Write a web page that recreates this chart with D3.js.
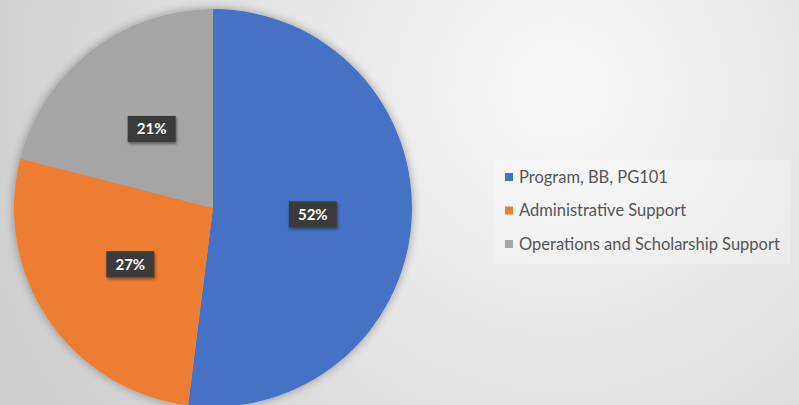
<!DOCTYPE html>
<html><head><meta charset="utf-8">
<script src="https://cdn.jsdelivr.net/npm/d3@7"></script>
<style>html,body{margin:0;padding:0;background:#e2e2e2;}svg{display:block;}</style>
</head><body>
<svg id="chart" width="799" height="405"></svg>
<script>
const categories = ["Program, BB, PG101", "Administrative Support", "Operations and Scholarship Support"];
const values = [52, 27, 21];
const colors = ["#4472c4", "#ed7d31", "#a5a5a5"];
const labels = ["52%", "27%", "21%"];

const W = 799, H = 405;
const svg = d3.select("#chart");
const defs = svg.append("defs");

const bg = defs.append("radialGradient").attr("id", "bg")
  .attr("gradientUnits", "userSpaceOnUse")
  .attr("cx", 560).attr("cy", 90).attr("r", 620);
bg.append("stop").attr("offset", "0").attr("stop-color", "#f8f8f8");
bg.append("stop").attr("offset", "0.5").attr("stop-color", "#e4e4e4");
bg.append("stop").attr("offset", "1").attr("stop-color", "#cdcdcd");
svg.append("rect").attr("width", W).attr("height", H).attr("fill", "url(#bg)");

const sh = defs.append("filter").attr("id", "pieShadow")
  .attr("x", "-20%").attr("y", "-20%").attr("width", "140%").attr("height", "140%");
sh.append("feDropShadow").attr("dx", 0).attr("dy", 0).attr("stdDeviation", 5)
  .attr("flood-color", "#000").attr("flood-opacity", 0.35);

const lsh = defs.append("filter").attr("id", "lblShadow")
  .attr("x", "-30%").attr("y", "-30%").attr("width", "160%").attr("height", "170%");
lsh.append("feDropShadow").attr("dx", 1).attr("dy", 2).attr("stdDeviation", 1.5)
  .attr("flood-color", "#000").attr("flood-opacity", 0.45);

const cx = 213, cy = 208, R = 199;
const pie = d3.pie().sort(null).value(d => d)(values);
const arc = d3.arc().innerRadius(0).outerRadius(R);
const labelArc = d3.arc().innerRadius(100).outerRadius(100);

const g = svg.append("g").attr("transform", `translate(${cx},${cy})`);
g.append("g").attr("filter", "url(#pieShadow)")
  .selectAll("path").data(pie).join("path")
  .attr("d", arc).attr("fill", (d, i) => colors[i]);

const lg = g.selectAll("g.lbl").data(pie).join("g").attr("class", "lbl")
  .attr("transform", d => `translate(${labelArc.centroid(d)})`);
lg.append("rect").attr("x", -24).attr("y", -13).attr("width", 48).attr("height", 26)
  .attr("fill", "#3b3b3b").attr("filter", "url(#lblShadow)");
lg.append("text").text((d, i) => labels[i])
  .attr("text-anchor", "middle").attr("dy", "0.36em")
  .attr("font-family", "Lato, 'Open Sans', sans-serif").attr("font-weight", "bold")
  .attr("font-size", 15).attr("fill", "#ffffff");

// legend
const legend = svg.append("g");
legend.append("rect").attr("x", 493).attr("y", 160).attr("width", 297).attr("height", 104)
  .attr("fill", "#ffffff").attr("opacity", 0.25);
const y = d3.scalePoint().domain(categories).range([177, 244]);
const items = legend.selectAll("g.item").data(categories).join("g").attr("class", "item")
  .attr("transform", d => `translate(505,${y(d)})`);
items.append("rect").attr("x", 0).attr("y", -4).attr("width", 8).attr("height", 8)
  .attr("fill", (d, i) => colors[i]);
items.append("text").text(d => d).attr("x", 14).attr("dy", "0.35em")
  .attr("font-family", "Lato, 'Open Sans', sans-serif").attr("font-size", 16.5)
  .attr("fill", "#555555");
</script>
</body></html>
